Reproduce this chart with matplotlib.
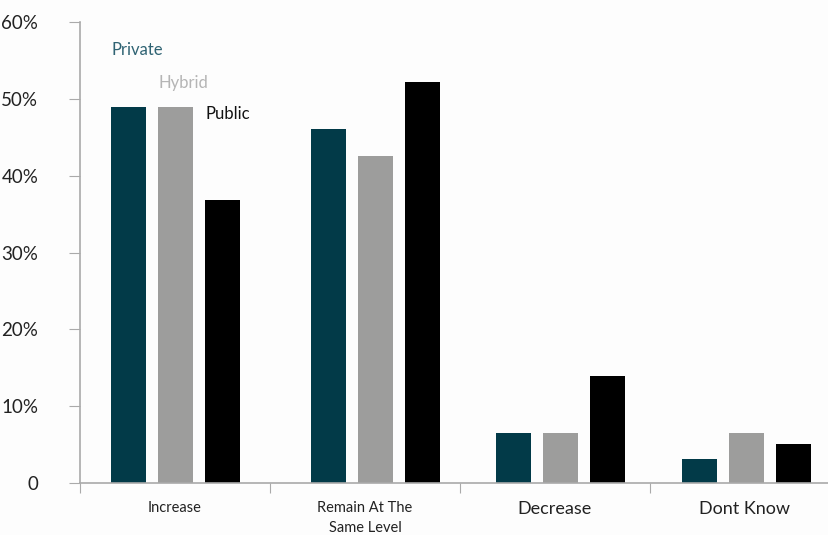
import matplotlib
matplotlib.use("Agg")
import matplotlib.pyplot as plt
import numpy as np

categories = ["Increase", "Remain At The\nSame Level", "Decrease", "Dont Know"]
series_names = ["Private", "Hybrid", "Public"]
private = [49, 46.1, 6.5, 3.1]
hybrid = [49, 42.6, 6.5, 6.5]
public = [36.8, 52.2, 13.9, 5.1]
y_ticks = [0, 10, 20, 30, 40, 50, 60]
y_tick_labels = ["0", "10%", "20%", "30%", "40%", "50%", "60%"]

colors = ["#023a48", "#9d9d9c", "#000000"]
label_colors = ["#2f6373", "#b5b5b5", "#111111"]

plt.rcParams['font.family'] = ['Lato', 'DejaVu Sans']

fig = plt.figure(figsize=(8.29, 5.35), dpi=100)
fig.patch.set_facecolor("#fdfdfd")
ax = fig.add_axes([80/829, (535-483)/535, 749/829, (483-22)/535])
ax.set_facecolor("#fdfdfd")

unit = 190.0
group_offsets = [0.003, 0.055, 0.03, 0.01]
centers = np.arange(len(categories)) + 0.5 + np.array(group_offsets)
bw = 35/unit
step = 47/unit
data = [private, hybrid, public]
for k, vals in enumerate(data):
    ax.bar(centers + (k-1)*step, vals, width=bw, color=colors[k], zorder=2)

# legend-like labels
label_y = [56.3, 52.0, 48.0]
for k, name in enumerate(series_names):
    ax.text(centers[0] + (k-1)*step - bw/2, label_y[k], name, color=label_colors[k],
            fontsize=12, ha='left', va='center')

ax.set_xlim(0, 749/unit)
ax.set_ylim(0, 60)
ax.set_yticks(y_ticks)
ax.set_yticklabels(y_tick_labels, fontsize=13.5, color="#222222")
ax.set_xticks(np.arange(len(categories)))
ax.set_xticklabels([])
ax.tick_params(axis='x', which='major', length=7, color="#aaaaaa", direction='out')
ax.tick_params(axis='y', length=8, color="#aaaaaa", direction='out', pad=22)
for lab in ax.get_yticklabels():
    lab.set_horizontalalignment('right')

ax.set_xticks(np.arange(len(categories)) + 0.5, minor=True)
ax.set_xticklabels(categories, minor=True)
ax.tick_params(axis='x', which='minor', length=0, pad=13)
sizes = [10.5, 10.5, 13, 13]
for lab, s in zip(ax.get_xticklabels(minor=True), sizes):
    lab.set_fontsize(s)
    lab.set_color("#222222")
    lab.set_verticalalignment('top')
    lab.set_linespacing(1.5)

for sp in ["top", "right"]:
    ax.spines[sp].set_visible(False)
ax.spines["left"].set_color("#aaaaaa")
ax.spines["bottom"].set_color("#aaaaaa")
ax.spines["left"].set_linewidth(1.2)
ax.spines["bottom"].set_linewidth(1.2)

fig.savefig("out.png", dpi=100, facecolor=fig.get_facecolor())
